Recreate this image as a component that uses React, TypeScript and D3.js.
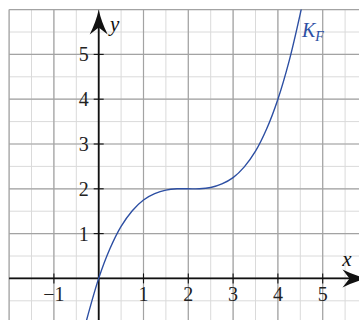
import React from 'react';
import * as d3 from 'd3';

// points
const curveX = [-0.3, 0, 0.25, 0.5, 0.75, 1, 1.25, 1.5, 1.75, 2, 2.25, 2.5, 2.75, 3, 3.25, 3.5, 3.75, 4, 4.25, 4.5, 4.6];
const curveY = [-1.04, 0, 0.66, 1.16, 1.51, 1.75, 1.89, 1.97, 2.0, 2.0, 2.0, 2.03, 2.11, 2.25, 2.49, 2.84, 3.34, 4.0, 4.85, 5.91, 6.39];

const xTicks = [-1, 1, 2, 3, 4, 5];
const yTicks = [1, 2, 3, 4, 5];
const xDomain = [-2, 6];
const yDomain = [-1, 6];
const curveLabel = ['K', 'F'];

const W = 359;
const H = 320;
const unit = 44.8;
const ox = 98.7;
const oy = 278.4;

const blue = '#2d4fa3';
const font = "'Liberation Serif', serif";

export default function App() {
  const x = d3.scaleLinear().domain(xDomain).range([ox + xDomain[0] * unit, ox + xDomain[1] * unit]);
  const y = d3.scaleLinear().domain(yDomain).range([oy - yDomain[0] * unit, oy - yDomain[1] * unit]);

  const minorX = d3.range(xDomain[0], xDomain[1] + 0.01, 0.5);
  const minorY = d3.range(yDomain[0], yDomain[1] + 0.01, 0.5);
  const majorX = minorX.filter(v => Number.isInteger(v));
  const majorY = minorY.filter(v => Number.isInteger(v));

  const pts: [number, number][] = curveX.map((v, i) => [v, curveY[i]]);
  const line = d3.line<[number, number]>()
    .x(d => x(d[0]))
    .y(d => y(d[1]))
    .curve(d3.curveCatmullRom.alpha(0.5));

  const x0 = x(xDomain[0]), x1 = x(xDomain[1]);
  const y0 = y(yDomain[0]), y1 = y(yDomain[1]);

  // stealth-like arrow head, tip at origin pointing up
  const arrow = 'M0,0 Q2.5,12 9,25 L0,18 L-9,25 Q-2.5,12 0,0 Z';
  const txt = {fontFamily: font};

  return (
    <svg width={W} height={H} style={{position: 'absolute', left: 0, top: 0, background: '#fff'}}>
      <defs>
        <clipPath id="plot">
          <rect x={x0} y={y1} width={x1 - x0} height={y0 - y1} />
        </clipPath>
      </defs>
      <g>
        {minorX.map(v => (
          <line key={'mx' + v} x1={x(v)} x2={x(v)} y1={y0} y2={y1} stroke="#dadada" strokeWidth={1} />
        ))}
        {minorY.map(v => (
          <line key={'my' + v} y1={y(v)} y2={y(v)} x1={x0} x2={x1} stroke="#dadada" strokeWidth={1} />
        ))}
        {majorX.map(v => (
          <line key={'Mx' + v} x1={x(v)} x2={x(v)} y1={y0} y2={y1} stroke="#a3a3a3" strokeWidth={1.2} />
        ))}
        {majorY.map(v => (
          <line key={'My' + v} y1={y(v)} y2={y(v)} x1={x0} x2={x1} stroke="#a3a3a3" strokeWidth={1.2} />
        ))}
      </g>

      {/* axes */}
      <line x1={x0} x2={x1 - 12} y1={y(0)} y2={y(0)} stroke="#111" strokeWidth={1.8} />
      <line x1={x(0)} x2={x(0)} y1={y0} y2={y1 + 12} stroke="#111" strokeWidth={1.8} />
      <path d={arrow} fill="#111" transform={`translate(${x(0)},${y1})`} />
      <path d={arrow} fill="#111" transform={`translate(${x1},${y(0)}) rotate(90)`} />

      {xTicks.map(v => (
        <g key={'xt' + v}>
          <line x1={x(v)} x2={x(v)} y1={y(0) - 5} y2={y(0) + 5} stroke="#111" strokeWidth={1.1} />
          <text x={x(v)} y={y(0) + 23} textAnchor="middle" style={txt} fontSize={20} fill="#222">
            {v < 0 ? '\u2212' + Math.abs(v) : v}
          </text>
        </g>
      ))}
      {yTicks.map(v => (
        <g key={'yt' + v}>
          <line x1={x(0) - 5} x2={x(0) + 5} y1={y(v)} y2={y(v)} stroke="#111" strokeWidth={1.1} />
          <text x={x(0) - 10} y={y(v) + 7} textAnchor="end" style={txt} fontSize={20} fill="#222">
            {v}
          </text>
        </g>
      ))}

      <text x={110} y={31} style={txt} fontStyle="italic" fontSize={21} fill="#111">y</text>
      <text x={347} y={266} textAnchor="middle" style={txt} fontStyle="italic" fontSize={21} fill="#111">x</text>

      <path d={line(pts) || ''} fill="none" stroke={blue} strokeWidth={1.4} clipPath="url(#plot)" />

      <text x={302} y={37} style={txt} fontStyle="italic" fontSize={20} fill={blue}>
        {curveLabel[0]}
        <tspan fontSize={14} dy={4}>{curveLabel[1]}</tspan>
      </text>
    </svg>
  );
}
